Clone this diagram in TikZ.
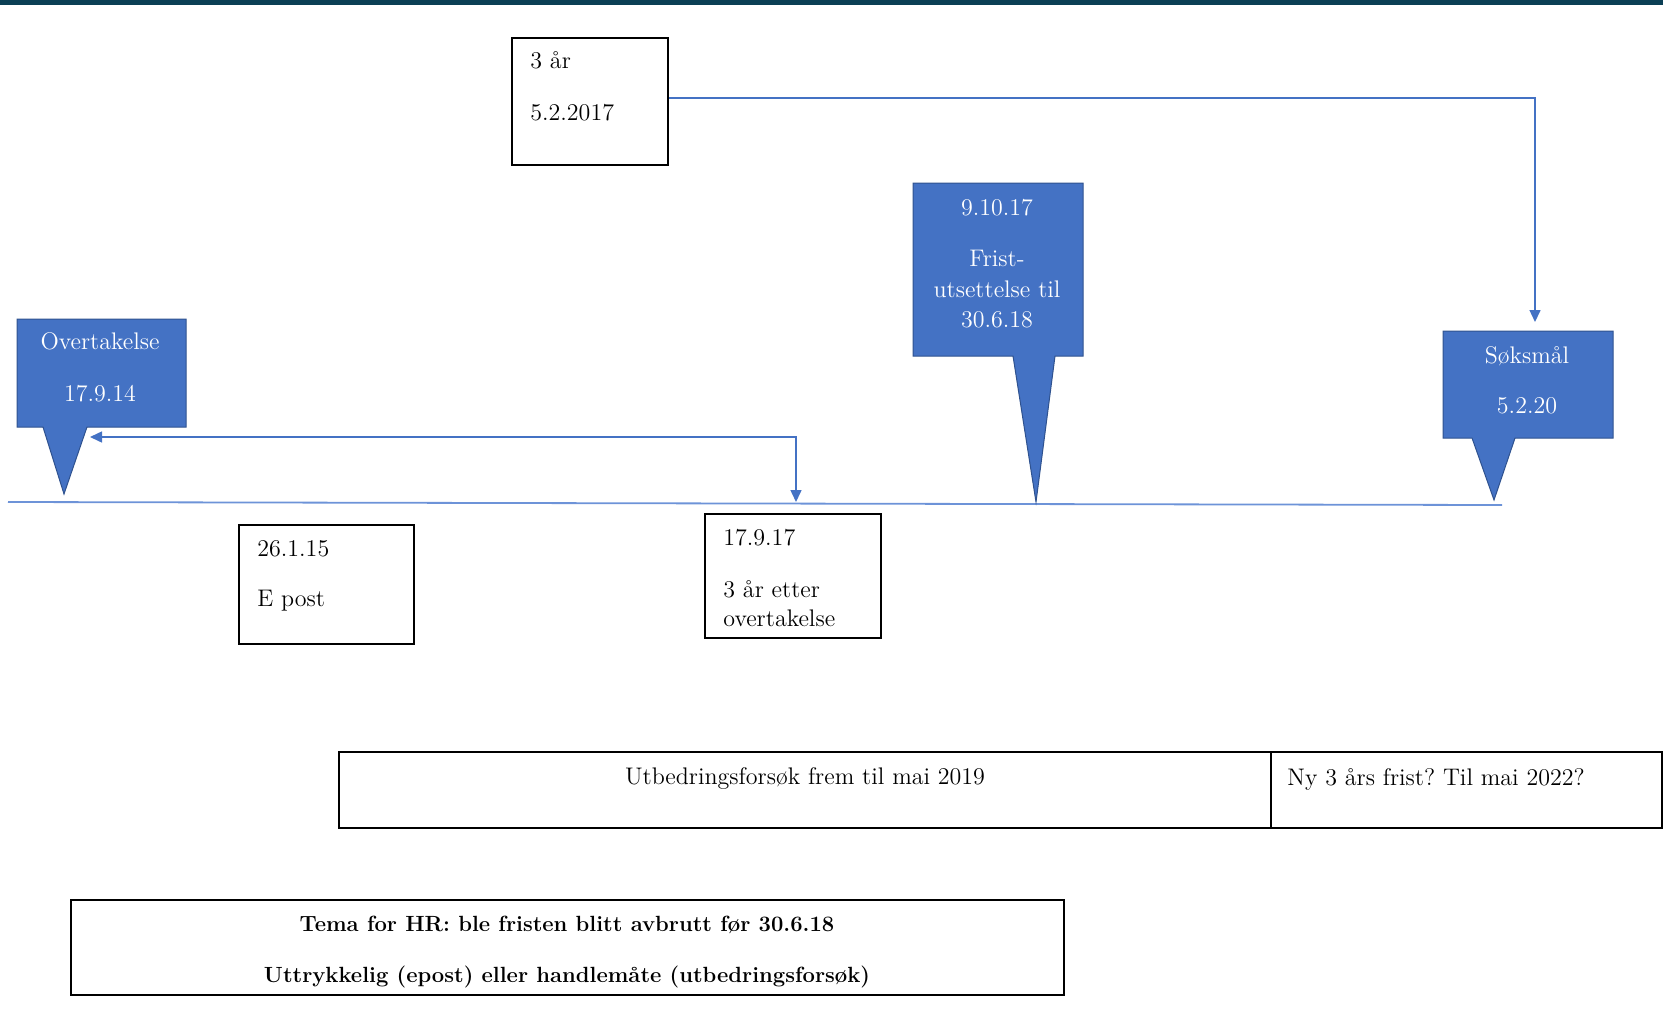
\documentclass[tikz,border=0pt]{standalone}
\usepackage{fontspec}
\usepackage{tikz}
\usetikzlibrary{arrows.meta}
\usetikzlibrary{fit}
\frenchspacing

\definecolor{barteal}{HTML}{0B3F55}
\definecolor{calloutfill}{HTML}{4472C4}
\definecolor{calloutedge}{HTML}{2F528F}
\definecolor{linkblue}{HTML}{4472C4}
\definecolor{lineblue}{HTML}{6D93D8}

\tikzset{
  txt/.style={font=\fontsize{12}{14.5}\selectfont, inner sep=0pt, anchor=base west},
  ctxt/.style={txt, anchor=base},
  wtxt/.style={ctxt, text=white},
  btxt/.style={font=\fontsize{11}{13}\selectfont\bfseries, inner sep=0pt, anchor=base},
  framebox/.style={draw=black, line width=0.75pt, inner sep=0pt},
  callout/.style={fill=calloutfill, draw=calloutedge, line width=0.5pt, line join=miter},
  link/.style={draw=linkblue, line width=0.75pt},
  timeline/.style={draw=lineblue, line width=0.9pt},
}

\begin{document}
\begin{tikzpicture}[x=0.5pt,y=-0.5pt,>={Triangle[length=6pt,width=5.5pt]}]
\useasboundingbox (0,0) rectangle (1663,1033);
\fill[barteal] (0,0) rectangle (1663,5);

% tidslinje
\coordinate (tlstart) at (8,502);
\coordinate (tlend) at (1502,505);
\draw[timeline] (tlstart) -- (tlend);

% merkelapper
\draw[callout] (17,319) -- (186,319) -- (186,427) -- (87,427) -- (64,494) -- (43,427) -- (17,427) -- cycle;
\node[wtxt] (takeovera) at (100,349) {Overtakelse};
\node[wtxt] (takeoverb) at (100,401) {17.9.14};

\draw[callout] (913,183) -- (1083,183) -- (1083,356) -- (1055,356) -- (1036,502) -- (1013,356) -- (913,356) -- cycle;
\node[wtxt] (extenda) at (997,215) {9.10.17};
\node[wtxt] (extendb) at (997,266) {Frist-};
\node[wtxt] (extendc) at (997,297) {utsettelse til};
\node[wtxt] (extendd) at (997,327) {30.6.18};

\draw[callout] (1443,331) -- (1613,331) -- (1613,438) -- (1515,438) -- (1494,500) -- (1472,438) -- (1443,438) -- cycle;
\node[wtxt] (suita) at (1527,363) {Søksmål};
\node[wtxt] (suitb) at (1527,413) {5.2.20};

% bokser
\node[framebox, fit={(512,38) (668,165)}] (limit) {};
\node[txt] (limita) at (530,68) {3 år};
\node[txt] (limitb) at (530,120) {5.2.2017};

\node[framebox, fit={(239,525) (414,644)}] (email) {};
\node[txt] (emaila) at (257,556) {26.1.15};
\node[txt] (emailb) at (257,606) {E post};

\node[framebox, fit={(705,514) (881,638)}] (threeyears) {};
\node[txt] (threeyearsa) at (723,545) {17.9.17};
\node[txt] (threeyearsb) at (723,597) {3 år etter};
\node[txt] (threeyearsc) at (723,626) {overtakelse};

\node[framebox, fit={(339,752) (1271,828)}] (repair) {};
\node[ctxt] (repairtxt) at (805,784) {Utbedringsforsøk frem til mai 2019};
\node[framebox, fit={(1271,752) (1662,828)}] (newterm) {};
\node[txt] (newtermtxt) at (1287,785) {Ny 3 års frist? Til mai 2022?};

\node[framebox, fit={(71,900) (1064,995)}] (topic) {};
\node[btxt] (topica) at (567,931) {Tema for HR: ble fristen blitt avbrutt før 30.6.18};
\node[btxt] (topicb) at (567,982) {Uttrykkelig (epost) eller handlemåte (utbedringsforsøk)};

% piler
\coordinate (mark17) at (796,502);
\coordinate (takeoverend) at (90,437);
\draw[link,<->] (takeoverend) -| (mark17);
\coordinate (suitend) at (1535,322);
\draw[link,->] ([yshift=1.75pt]limit.east) -| (suitend);
\end{tikzpicture}
\end{document}
